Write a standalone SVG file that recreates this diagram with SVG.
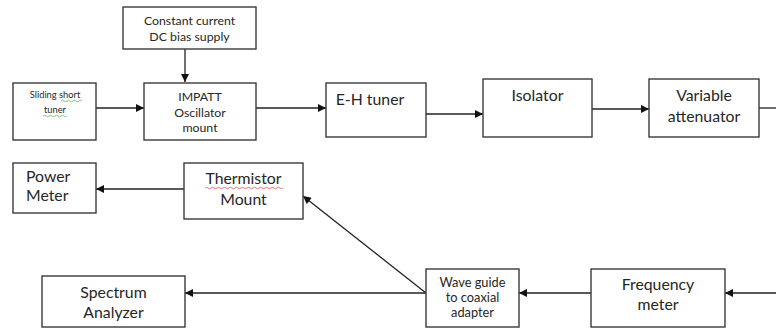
<svg xmlns="http://www.w3.org/2000/svg" width="776" height="329" viewBox="0 0 776 329">
<defs>
<marker id="ah" viewBox="0 0 10 10" refX="10" refY="5" markerWidth="9" markerHeight="8" markerUnits="userSpaceOnUse" orient="auto">
<path d="M0,0 L10,5 L0,10 z" fill="#111"/>
</marker>
</defs>
<style>
.box{fill:#fff;stroke:#3a3a3a;stroke-width:1.4}
.t{font-family:Lato,"Open Sans",sans-serif;fill:#262626;text-anchor:middle}
.s9{font-size:9.3px}
.s11{font-size:12.3px}
.s12{font-size:12.8px}
.s14{font-size:15.8px}
.c{stroke:#222;stroke-width:1.3;fill:none;marker-end:url(#ah)}
.l{stroke:#222;stroke-width:1.3;fill:none}
.sq{fill:none;stroke-width:0.8}
</style>
<rect width="776" height="329" fill="#fff"/>
<g id="connectors">
<line class="c" x1="185" y1="49" x2="185" y2="82"/>
<line class="c" x1="96" y1="108" x2="144" y2="108"/>
<line class="c" x1="256" y1="108" x2="326" y2="108"/>
<line class="c" x1="426" y1="114" x2="483" y2="114"/>
<line class="c" x1="592" y1="109" x2="649" y2="109"/>
<line class="l" x1="759" y1="108" x2="776" y2="108"/>
<line class="c" x1="776" y1="293" x2="725" y2="293"/>
<line class="c" x1="591" y1="293" x2="519" y2="293"/>
<line class="c" x1="426" y1="293" x2="185" y2="293"/>
<line class="c" x1="426" y1="293" x2="303" y2="196"/>
<line class="c" x1="184" y1="189" x2="96" y2="189"/>
</g>
<g id="bias">
<rect class="box" x="123" y="7" width="133" height="42"/>
<text class="t s11" x="189.5" y="25">Constant current</text>
<text class="t s11" x="189.5" y="41">DC bias supply</text>
</g>
<g id="sliding">
<rect class="box" x="13" y="83" width="83" height="57"/>
<text class="t s9" x="55" y="98">Sliding short</text>
<text class="t s9" x="55" y="113">tuner</text>
<path class="sq" stroke="#5cb85c" d="M61,101 q1.5,-1.5 3,0 t3,0 t3,0 t3,0 t3,0 t3,0 t3,0"/>
<path class="sq" stroke="#5cb85c" d="M43,116 q1.5,-1.5 3,0 t3,0 t3,0 t3,0 t3,0 t3,0 t3,0 t3,0"/>
</g>
<g id="impatt">
<rect class="box" x="144" y="83" width="112" height="57"/>
<text class="t s11" x="200" y="101">IMPATT</text>
<text class="t s11" x="200" y="117">Oscillator</text>
<text class="t s11" x="200" y="132">mount</text>
</g>
<g id="ehtuner">
<rect class="box" x="326" y="83" width="100" height="54"/>
<text class="t s14" x="370" y="105">E-H tuner</text>
</g>
<g id="isolator">
<rect class="box" x="483" y="79" width="109" height="58"/>
<text class="t s14" x="537.5" y="101">Isolator</text>
</g>
<g id="attenuator">
<rect class="box" x="649" y="79" width="110" height="58"/>
<text class="t s14" x="704" y="101">Variable</text>
<text class="t s14" x="704" y="122">attenuator</text>
</g>
<g id="powermeter">
<rect class="box" x="13" y="163" width="83" height="50"/>
<text class="t s14" x="26" y="182" style="text-anchor:start">Power</text>
<text class="t s14" x="26" y="201" style="text-anchor:start">Meter</text>
</g>
<g id="thermistor">
<rect class="box" x="184" y="163" width="119" height="56"/>
<text class="t s14" x="243.5" y="184">Thermistor</text>
<text class="t s14" x="243.5" y="205">Mount</text>
<path class="sq" stroke="#e05050" d="M205,188 q1.5,-1.5 3,0 t3,0 t3,0 t3,0 t3,0 t3,0 t3,0 t3,0 t3,0 t3,0 t3,0 t3,0 t3,0 t3,0 t3,0 t3,0 t3,0 t3,0 t3,0 t3,0 t3,0 t3,0 t3,0 t3,0 t3,0 t3,0"/>
</g>
<g id="spectrum">
<rect class="box" x="42" y="276" width="143" height="51"/>
<text class="t s14" x="113.5" y="298">Spectrum</text>
<text class="t s14" x="113.5" y="318">Analyzer</text>
</g>
<g id="waveguide">
<rect class="box" x="426" y="269" width="93" height="58"/>
<text class="t s12" x="472.5" y="287">Wave guide</text>
<text class="t s12" x="472.5" y="302">to coaxial</text>
<text class="t s12" x="472.5" y="317">adapter</text>
</g>
<g id="frequency">
<rect class="box" x="591" y="269" width="134" height="58"/>
<text class="t s14" x="658" y="290">Frequency</text>
<text class="t s14" x="658" y="310">meter</text>
</g>
</svg>
